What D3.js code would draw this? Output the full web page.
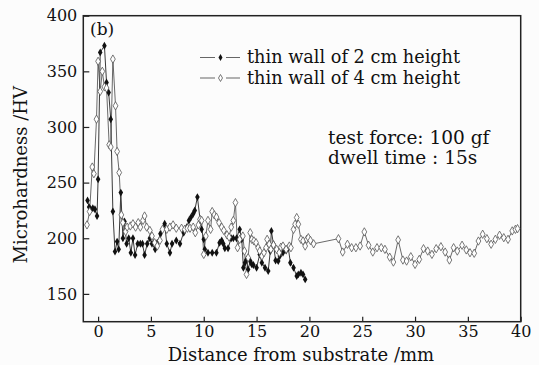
<!DOCTYPE html>
<html>
<head>
<meta charset="utf-8">
<script src="https://cdn.jsdelivr.net/npm/d3@7"></script>
<style>
  html, body { margin: 0; padding: 0; background: #fcfcfc; }
  svg { display: block; }
  text { font-family: "DejaVu Serif", "Liberation Serif", serif; fill: #111; }
</style>
</head>
<body>
<svg id="chart" width="539" height="365"></svg>
<script>
// ---- data ----
const wall2cmX = [-1.0,-0.85,-0.7,-0.5,-0.3,-0.1,0.0,0.2,0.6,0.8,1.0,1.2,1.4,1.6,1.8,1.95,2.15,2.35,2.5,2.7,2.9,3.1,3.3,3.5,3.75,4.0,4.2,4.4,4.65,4.9,5.1,5.4,5.6,5.9,6.3,6.5,6.8,7.0,7.4,7.75,8.1,8.4,8.6,8.8,9.0,9.15,9.4,9.65,9.8,10.0,10.1,10.4,10.8,11.2,11.5,11.7,11.85,12.0,12.3,12.6,12.8,13.1,13.4,13.6,13.75,13.9,14.05,14.2,14.4,14.55,14.7,15.0,15.3,15.5,15.8,16.1,16.3,16.4,16.6,16.8,17.05,17.2,17.5,17.8,18.0,18.2,18.5,18.8,18.95,19.2,19.4,19.6];
const wall2cmV = [234,228,226,227,226,220,253,367,373,340,331,307,224,188,197,190,241,200,215,195,200,187,200,185,195,195,195,185,195,200,195,190,196,204,213,195,187,195,198,195,205,210,216,219,222,225,237,217,208,199,190,187,187,187,196,198,195,191,191,200,200,200,208,199,173.5,178,181,172,179.5,176.5,176,173.5,185.5,178,173.5,170.5,188.5,206.6,194.6,180,179.5,184,187,189,191.5,178,173.5,166,167.5,169,167.5,163];

const wall4cmX = [-1.05,-0.8,-0.55,-0.4,-0.15,0.0,0.2,0.4,0.6,0.8,1.05,1.2,1.4,1.65,1.8,2.0,2.2,2.35,2.6,2.75,3.05,3.3,3.55,3.8,4.0,4.25,4.4,4.6,4.9,5.1,5.35,5.6,5.85,6.1,6.5,6.8,7.1,7.4,7.9,8.2,8.45,8.7,9.0,9.2,9.5,9.65,9.8,10.0,10.2,10.4,10.65,10.8,11.0,11.2,11.45,11.7,11.9,12.2,12.4,12.6,12.8,13.0,13.2,13.4,13.7,13.85,14.05,14.2,14.4,14.55,14.75,14.95,15.15,15.3,15.5,15.7,15.9,16.0,16.2,16.35,16.6,16.9,17.15,17.3,17.5,17.8,18.1,18.25,18.5,18.65,18.8,18.95,19.2,19.4,19.6,19.75,19.9,20.1,20.4,22.75,23.15,23.6,24.0,24.4,24.8,25.2,25.6,26.0,26.4,26.8,27.15,27.6,27.95,28.4,28.85,29.2,29.6,30.0,30.4,30.8,31.2,31.6,32.0,32.45,32.85,33.25,33.65,34.0,34.45,34.85,35.2,35.6,36.0,36.4,36.8,37.2,37.6,38.0,38.4,38.8,39.2,39.5,39.7];
const wall4cmV = [212,224,264,258,307,359,332,350,336,335,284,282,361,319,278,259,221,214,206,210,211,213,210,214,210,216,220,210,207,202,196,193,198,208,208,210,212,209,209,208,209,209,210,205,212,217,216,185.5,202,216,208,224,221,219,214,210,207,203,201,210,216,232,191.5,199,202,188.5,167.5,182.5,205,199,197.6,196,191.5,188.5,184,187,191.5,199,194.6,190,194,190,187,192,193,190,193,191.5,208,212.6,218.6,212.6,199,197.6,193,199,200.5,198,195,199.6,187.6,194.6,191.5,191.5,193,205.7,193.7,187.6,191.5,191.5,190,183,178.6,198.5,180.4,179.5,183.4,176.5,181,190.6,188.5,185.5,190.6,192.4,187.6,180.4,191.5,188.5,193.7,189.5,187,186.5,197.5,203.6,199.6,194.6,199,202.7,200.5,199,206.6,208,208.6];

const xTicks = [0,5,10,15,20,25,30,35,40];
const yTicks = [150,200,250,300,350,400];
const legendLabels = ["thin wall of 2 cm height", "thin wall of 4 cm height"];
const noteLines = ["test force: 100 gf", "dwell time : 15s"];

// ---- layout ----
const L = 83.3, R = 520.7, T = 15.7, B = 321.7;
const svg = d3.select("#chart");
const x = d3.scaleLinear().domain([-1.4, 40]).range([L, R]);
const y = d3.scaleLinear().domain([125, 400]).range([B, T]);

// axes (ticks inward)
const gx = svg.append("g").attr("transform", `translate(0,${B})`)
  .call(d3.axisBottom(x).tickValues(xTicks).tickSizeInner(-5).tickSizeOuter(0).tickPadding(4));
const gy = svg.append("g").attr("transform", `translate(${L},0)`)
  .call(d3.axisLeft(y).tickValues(yTicks).tickSizeInner(-6).tickSizeOuter(0).tickPadding(6));
[gx, gy].forEach(g => {
  g.select(".domain").remove();
  g.selectAll("line").attr("stroke", "#222").attr("stroke-width", 1.2);
  g.selectAll("text").style("font-family", '"DejaVu Serif", serif').style("font-size", "16px").attr("fill", "#111");
});

// frame
svg.append("rect").attr("x", L).attr("y", T).attr("width", R - L).attr("height", B - T)
  .attr("fill", "none").attr("stroke", "#222").attr("stroke-width", 1.5);

// axis titles
svg.append("text").attr("x", (L + R) / 2 - 1).attr("y", 360.5).attr("text-anchor", "middle")
  .style("font-size", "18px").text("Distance from substrate /mm");
svg.append("text").attr("transform", `translate(27,${(T + B) / 2 + 6}) rotate(-90)`).attr("text-anchor", "middle")
  .style("font-size", "18px").text("Microhardness /HV");

// panel label
svg.append("text").attr("x", 90).attr("y", 35).style("font-size", "17px").text("(b)");

// series
const line = d3.line().x(d => x(d[0])).y(d => y(d[1]));
const s2 = wall2cmX.map((v, i) => [v, wall2cmV[i]]);
const s4 = wall4cmX.map((v, i) => [v, wall4cmV[i]]);
const diamond = d3.symbol().type(d3.symbolDiamond);

svg.append("path").datum(s2).attr("d", line).attr("fill", "none").attr("stroke", "#222").attr("stroke-width", 0.9);
svg.append("path").datum(s4).attr("d", line).attr("fill", "none").attr("stroke", "#444").attr("stroke-width", 0.8);

svg.append("g").selectAll("path").data(s2).join("path")
  .attr("transform", d => `translate(${x(d[0])},${y(d[1])})`)
  .attr("d", diamond.size(18)).attr("fill", "#111");
svg.append("g").selectAll("path").data(s4).join("path")
  .attr("transform", d => `translate(${x(d[0])},${y(d[1])})`)
  .attr("d", diamond.size(20)).attr("fill", "#fff").attr("stroke", "#555").attr("stroke-width", 0.8);

// legend
const legY = [57.5, 78];
legendLabels.forEach((lab, i) => {
  const g = svg.append("g");
  g.append("line").attr("x1", 200).attr("x2", 215).attr("y1", legY[i]).attr("y2", legY[i]).attr("stroke", "#666").attr("stroke-width", 1);
  g.append("line").attr("x1", 226).attr("x2", 240).attr("y1", legY[i]).attr("y2", legY[i]).attr("stroke", "#666").attr("stroke-width", 1);
  g.append("path").attr("transform", `translate(220.5,${legY[i]})`).attr("d", diamond.size(14))
    .attr("fill", i === 0 ? "#111" : "#fff").attr("stroke", i === 0 ? "none" : "#555").attr("stroke-width", 0.8);
  g.append("text").attr("x", 247).attr("y", legY[i] + 5.5).style("font-size", "17.7px").text(lab);
});

// note
noteLines.forEach((t, i) => {
  svg.append("text").attr("x", 328).attr("y", 143.5 + i * 20).style("font-size", "18.5px").text(t);
});
</script>
</body>
</html>
